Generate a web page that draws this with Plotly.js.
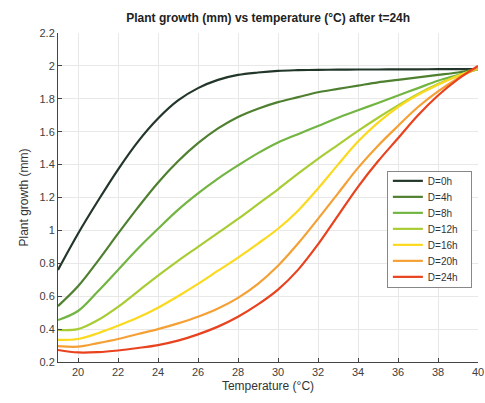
<!DOCTYPE html>
<html>
<head>
<meta charset="utf-8">
<script src="https://cdn.plot.ly/plotly-3.0.1.min.js"></script>
<style>html,body{margin:0;padding:0;background:#fff;}#chart{width:485px;height:403px;}</style>
</head>
<body>
<div id="chart"></div>
<script>
const temperature = [19,20,21,22,23,24,25,26,27,28,29,30,31,32,33,34,35,36,37,38,39,40];
const seriesNames = ["D=0h","D=4h","D=8h","D=12h","D=16h","D=20h","D=24h"];
const growthD0  = [0.76,0.98,1.18,1.37,1.54,1.68,1.79,1.865,1.915,1.945,1.96,1.97,1.974,1.976,1.977,1.978,1.978,1.979,1.979,1.98,1.98,1.98];
const growthD4  = [0.54,0.66,0.815,0.98,1.14,1.29,1.42,1.53,1.62,1.69,1.74,1.78,1.81,1.84,1.86,1.88,1.90,1.915,1.93,1.945,1.96,1.98];
const growthD8  = [0.455,0.51,0.63,0.76,0.89,1.01,1.125,1.225,1.315,1.395,1.47,1.535,1.585,1.635,1.685,1.73,1.775,1.82,1.865,1.91,1.945,1.98];
const growthD12 = [0.395,0.40,0.455,0.535,0.63,0.725,0.815,0.90,0.985,1.07,1.16,1.25,1.345,1.435,1.52,1.605,1.685,1.76,1.83,1.89,1.94,1.98];
const growthD16 = [0.335,0.34,0.375,0.42,0.47,0.53,0.60,0.675,0.755,0.835,0.92,1.01,1.12,1.255,1.40,1.54,1.655,1.75,1.825,1.885,1.94,1.985];
const growthD20 = [0.297,0.293,0.315,0.34,0.37,0.40,0.435,0.475,0.525,0.59,0.675,0.785,0.92,1.07,1.225,1.38,1.515,1.635,1.75,1.845,1.925,1.99];
const growthD24 = [0.273,0.258,0.26,0.27,0.285,0.303,0.33,0.368,0.415,0.475,0.55,0.64,0.76,0.915,1.09,1.265,1.42,1.56,1.70,1.82,1.92,2.0];
const xTicks = [20,22,24,26,28,30,32,34,36,38,40];
const yTicks = [0.2,0.4,0.6,0.8,1,1.2,1.4,1.6,1.8,2,2.2];

const allSeries = [growthD0,growthD4,growthD8,growthD12,growthD16,growthD20,growthD24];
const colors = ["#22372a","#4f8030","#72b542","#a8cc34","#fbd91e","#f5a035","#e8421e"];

const traces = allSeries.map((ys,i)=>({
  x: temperature, y: ys, name: seriesNames[i], type: "scatter", mode: "lines",
  line: {color: colors[i], width: 2.2, shape: "spline", smoothing: 1}
}));

const axisFont = {family: "Liberation Sans, Arial, sans-serif", size: 11, color: "#404040"};
const layout = {
  width: 485, height: 403,
  margin: {l: 58, r: 7, t: 33, b: 41},
  paper_bgcolor: "#fff", plot_bgcolor: "#fff",
  title: {text: "<b>Plant growth (mm) vs temperature (°C) after t=24h</b>",
    font: {family: "Liberation Sans, Arial, sans-serif", size: 12, color: "#222"},
    x: 0.553, xanchor: "center", y: 0.957, yanchor: "middle"},
  xaxis: {range: [19,40], tickvals: xTicks, ticks: "inside", ticklen: 4, tickcolor: "#444",
    showline: true, linecolor: "#444", linewidth: 1, showgrid: true, gridcolor: "#e8e8e8",
    zeroline: false, tickfont: axisFont,
    title: {text: "Temperature (°C)", font: {family: "Liberation Sans, Arial, sans-serif", size: 12, color: "#333"}, standoff: 4}},
  yaxis: {range: [0.2,2.2], tickvals: yTicks, ticks: "inside", ticklen: 4, tickcolor: "#444",
    showline: true, linecolor: "#444", linewidth: 1, showgrid: true, gridcolor: "#e8e8e8",
    zeroline: false, tickfont: axisFont,
    title: {text: "Plant growth (mm)", font: {family: "Liberation Sans, Arial, sans-serif", size: 12, color: "#333"}, standoff: 8}},
  legend: {x: 0.783, y: 0.581, xanchor: "left", yanchor: "top",
    bgcolor: "#fff", bordercolor: "#888", borderwidth: 1,
    font: {family: "Liberation Sans, Arial, sans-serif", size: 10, color: "#333"},
    tracegroupgap: 0, itemwidth: 30},
  showlegend: true
};
Plotly.newPlot("chart", traces, layout, {displayModeBar: false, staticPlot: true}).then(()=>{
  const leg = document.querySelector(".legend");
  if (!leg) return;
  const items = leg.querySelectorAll(".traces");
  items.forEach((g,i)=>{
    const t = g.getAttribute("transform") || "";
    const m = t.match(/translate\(\s*([-\d.]+)/);
    const tx = m ? parseFloat(m[1]) : 1;
    g.setAttribute("transform", "translate(" + tx + "," + (10 + 16*i) + ")");
  });
  const bg = leg.querySelector(".bg");
  if (bg) { bg.setAttribute("height", 116); bg.setAttribute("width", 84); }
  const sb = leg.querySelector(".scrollbox");
  if (sb) sb.removeAttribute("clip-path");
});
</script>
</body>
</html>
